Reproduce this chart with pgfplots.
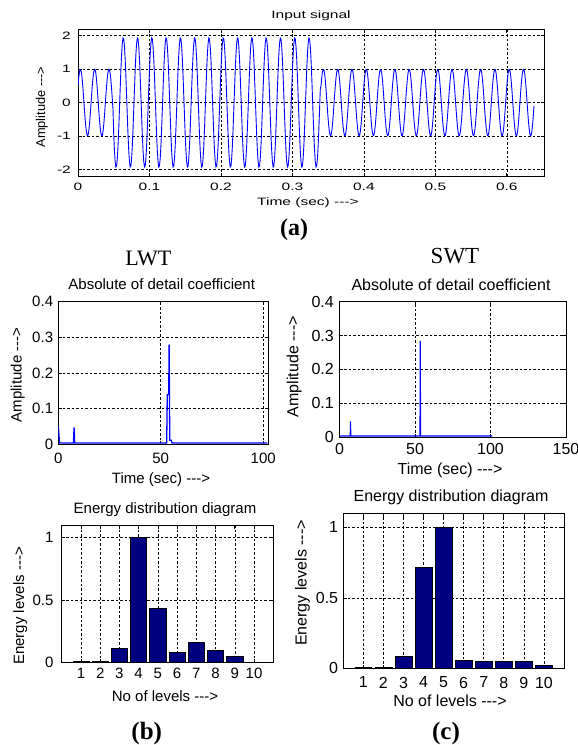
\documentclass[border=0pt]{standalone}
\usepackage{pgfplots}
\pgfplotsset{compat=1.18}
\usepackage{fontspec}
\setmainfont{Liberation Sans}
\newfontfamily\widesans[FakeStretch=1.45]{Liberation Sans}
\newfontfamily\serif{Liberation Serif}
\definecolor{navy}{rgb}{0,0,0.5}
\definecolor{mblue}{rgb}{0,0,1}
\newcommand{\topf}{\widesans\fontsize{10.7bp}{12bp}\selectfont}
\newcommand{\fa}{\fontsize{15bp}{17bp}\selectfont}
\newcommand{\fb}{\fontsize{16bp}{18bp}\selectfont}
\pgfplotsset{
  mat/.style={scale only axis, anchor=north west,
    axis line style={black, line width=0.9bp},
    grid=major, grid style={black, line width=0.65bp, dash pattern=on 2.5bp off 2bp},
    major tick length=3.5bp, tick style={black, line width=0.7bp},
    /pgf/number format/assume math mode=true,
    xticklabel style={anchor=north, inner sep=0pt},
    yticklabel style={anchor=east, inner sep=0pt}},
}
\begin{document}
\begin{tikzpicture}
\useasboundingbox (0,0) rectangle (578bp,-745bp);
% ---------------- top: input signal
\begin{axis}[mat, at={(78bp,-29bp)}, width=466bp, height=147bp,
  xmin=0, xmax=0.652, ymin=-2.2, ymax=2.2,
  xtick={0,0.1,0.2,0.3,0.4,0.5,0.6}, ytick={-2,-1,0,1,2},
  tick label style={font=\topf},
  xticklabel style={yshift=-7bp}, yticklabel style={xshift=-7bp}]
\addplot[mblue, line width=0.9bp] table[row sep=\\, x expr=\coordindex*0.001, y index=0] {
y\\
.5\\.74\\.91\\.99\\.98\\.87\\.67\\.41\\.1\\-.21\\-.5\\-.74\\-.91\\-.99\\-.98\\-.87\\-.67\\-.41\\-.1\\.21\\
.5\\.74\\.91\\.99\\.98\\.87\\.67\\.41\\.1\\-.21\\-.5\\-.74\\-.91\\-.99\\-.98\\-.87\\-.67\\-.41\\-.1\\.21\\
.5\\.74\\.91\\.99\\.98\\.87\\.67\\.41\\.1\\-.21\\
-.97\\-1.44\\-1.77\\-1.93\\-1.9\\-1.68\\-1.3\\-.79\\-.2\\.4\\
.97\\1.44\\1.77\\1.93\\1.9\\1.68\\1.3\\.79\\.2\\-.4\\-.97\\-1.44\\-1.77\\-1.93\\-1.9\\-1.68\\-1.3\\-.79\\-.2\\.4\\
.97\\1.44\\1.77\\1.93\\1.9\\1.68\\1.3\\.79\\.2\\-.4\\-.97\\-1.44\\-1.77\\-1.93\\-1.9\\-1.68\\-1.3\\-.79\\-.2\\.4\\
.97\\1.44\\1.77\\1.93\\1.9\\1.68\\1.3\\.79\\.2\\-.4\\-.97\\-1.44\\-1.77\\-1.93\\-1.9\\-1.68\\-1.3\\-.79\\-.2\\.4\\
.97\\1.44\\1.77\\1.93\\1.9\\1.68\\1.3\\.79\\.2\\-.4\\-.97\\-1.44\\-1.77\\-1.93\\-1.9\\-1.68\\-1.3\\-.79\\-.2\\.4\\
.97\\1.44\\1.77\\1.93\\1.9\\1.68\\1.3\\.79\\.2\\-.4\\-.97\\-1.44\\-1.77\\-1.93\\-1.9\\-1.68\\-1.3\\-.79\\-.2\\.4\\
.97\\1.44\\1.77\\1.93\\1.9\\1.68\\1.3\\.79\\.2\\-.4\\-.97\\-1.44\\-1.77\\-1.93\\-1.9\\-1.68\\-1.3\\-.79\\-.2\\.4\\
.97\\1.44\\1.77\\1.93\\1.9\\1.68\\1.3\\.79\\.2\\-.4\\-.97\\-1.44\\-1.77\\-1.93\\-1.9\\-1.68\\-1.3\\-.79\\-.2\\.4\\
.97\\1.44\\1.77\\1.93\\1.9\\1.68\\1.3\\.79\\.2\\-.4\\-.97\\-1.44\\-1.77\\-1.93\\-1.9\\-1.68\\-1.3\\-.79\\-.2\\.4\\
.97\\1.44\\1.77\\1.93\\1.9\\1.68\\1.3\\.79\\.2\\-.4\\-.97\\-1.44\\-1.77\\-1.93\\-1.9\\-1.68\\-1.3\\-.79\\-.2\\.4\\
.97\\1.44\\1.77\\1.93\\1.9\\1.68\\1.3\\.79\\.2\\-.4\\-.97\\-1.44\\-1.77\\-1.93\\-1.9\\-1.68\\-1.3\\-.79\\-.2\\.4\\
.97\\1.44\\1.77\\1.93\\1.9\\1.68\\1.3\\.79\\.2\\-.4\\-.97\\-1.44\\-1.77\\-1.93\\-1.9\\-1.68\\-1.3\\-.79\\-.2\\.4\\
.97\\1.44\\1.77\\1.93\\1.9\\1.68\\1.3\\.79\\.2\\-.4\\-.97\\-1.44\\-1.77\\-1.93\\-1.9\\-1.68\\-1.3\\-.79\\-.2\\.4\\
.97\\1.44\\1.77\\1.93\\1.9\\1.68\\1.3\\.79\\.2\\-.4\\-.97\\-1.44\\-1.77\\-1.93\\-1.9\\-1.68\\-1.3\\-.79\\-.2\\.4\\
.97\\1.44\\1.77\\1.93\\1.9\\1.68\\1.3\\.79\\.2\\-.4\\-.97\\-1.44\\-1.77\\-1.93\\-1.9\\-1.68\\-1.3\\-.79\\-.2\\.4\\
.5\\.74\\.91\\.99\\.98\\.87\\.67\\.41\\.1\\-.21\\-.5\\-.74\\-.91\\-.99\\-.98\\-.87\\-.67\\-.41\\-.1\\.21\\
.5\\.74\\.91\\.99\\.98\\.87\\.67\\.41\\.1\\-.21\\-.5\\-.74\\-.91\\-.99\\-.98\\-.87\\-.67\\-.41\\-.1\\.21\\
.5\\.74\\.91\\.99\\.98\\.87\\.67\\.41\\.1\\-.21\\-.5\\-.74\\-.91\\-.99\\-.98\\-.87\\-.67\\-.41\\-.1\\.21\\
.5\\.74\\.91\\.99\\.98\\.87\\.67\\.41\\.1\\-.21\\-.5\\-.74\\-.91\\-.99\\-.98\\-.87\\-.67\\-.41\\-.1\\.21\\
.5\\.74\\.91\\.99\\.98\\.87\\.67\\.41\\.1\\-.21\\-.5\\-.74\\-.91\\-.99\\-.98\\-.87\\-.67\\-.41\\-.1\\.21\\
.5\\.74\\.91\\.99\\.98\\.87\\.67\\.41\\.1\\-.21\\-.5\\-.74\\-.91\\-.99\\-.98\\-.87\\-.67\\-.41\\-.1\\.21\\
.5\\.74\\.91\\.99\\.98\\.87\\.67\\.41\\.1\\-.21\\-.5\\-.74\\-.91\\-.99\\-.98\\-.87\\-.67\\-.41\\-.1\\.21\\
.5\\.74\\.91\\.99\\.98\\.87\\.67\\.41\\.1\\-.21\\-.5\\-.74\\-.91\\-.99\\-.98\\-.87\\-.67\\-.41\\-.1\\.21\\
.5\\.74\\.91\\.99\\.98\\.87\\.67\\.41\\.1\\-.21\\-.5\\-.74\\-.91\\-.99\\-.98\\-.87\\-.67\\-.41\\-.1\\.21\\
.5\\.74\\.91\\.99\\.98\\.87\\.67\\.41\\.1\\-.21\\-.5\\-.74\\-.91\\-.99\\-.98\\-.87\\-.67\\-.41\\-.1\\.21\\
.5\\.74\\.91\\.99\\.98\\.87\\.67\\.41\\.1\\-.21\\-.5\\-.74\\-.91\\-.99\\-.98\\-.87\\-.67\\-.41\\-.1\\.21\\
.5\\.74\\.91\\.99\\.98\\.87\\.67\\.41\\.1\\-.21\\-.5\\-.74\\-.91\\-.99\\-.98\\-.87\\-.67\\-.41\\-.1\\.21\\
.5\\.74\\.91\\.99\\.98\\.87\\.67\\.41\\.1\\-.21\\-.5\\-.74\\-.91\\-.99\\-.98\\-.87\\-.67\\-.41\\-.1\\.21\\
.5\\.74\\.91\\.99\\.98\\.87\\.67\\.41\\.1\\-.21\\-.5\\-.74\\-.91\\-.99\\-.98\\-.87\\-.67\\-.41\\-.1\\.21\\
.5\\.74\\.91\\.99\\.98\\.87\\.67\\.41\\.1\\-.21\\-.5\\-.74\\-.91\\-.99\\-.98\\-.87\\-.67\\-.41\\-.1\\
};
\end{axis}
% ---------------- middle left: LWT detail
\begin{axis}[mat, at={(58.3bp,-301.7bp)}, width=210bp, height=142.8bp,
  xmin=0, xmax=102.5, ymin=0, ymax=0.4,
  xtick={0,50,100}, ytick={0,0.1,0.2,0.3,0.4},
  tick label style={font=\fa},
  xticklabel style={yshift=-8.5bp}, yticklabel style={xshift=-5bp}]
\addplot[mblue, line width=1.3bp] coordinates {
(0,0.052) (0.6,0.004) (7.4,0.004) (7.7,0.048) (8,0.004) (52.9,0.004) (53.2,0.14) (53.9,0.14) (54.1,0.28) (54.4,0.012) (55.2,0.012) (55.5,0.004) (102,0.004)};
\end{axis}
% ---------------- middle right: SWT detail
\begin{axis}[mat, at={(339.5bp,-301.7bp)}, width=226.5bp, height=135.3bp,
  xmin=0, xmax=150, ymin=0, ymax=0.4,
  xtick={0,50,100,150}, ytick={0,0.1,0.2,0.3,0.4},
  tick label style={font=\fb},
  xticklabel style={yshift=-6bp}, yticklabel style={xshift=-5.5bp}]
\addplot[mblue, line width=1.1bp] coordinates {
(0,0.003) (7.1,0.003) (7.3,0.046) (7.5,0.003) (53.3,0.003) (53.5,0.284) (53.7,0.003) (101,0.003)};
\end{axis}
% ---------------- bottom left: LWT energy
\begin{axis}[mat, at={(61.7bp,-525bp)}, width=211.6bp, height=137.7bp,
  xmin=0, xmax=11, ymin=0, ymax=1.1,
  xtick={1,2,3,4,5,6,7,8,9,10}, ytick={0,0.5,1},
  tick label style={font=\fa},
  xticklabel style={yshift=-5.5bp}, yticklabel style={xshift=-8bp}]
\addplot[ybar, bar width=0.84, fill=navy, draw=black, line width=0.7bp] coordinates {
(1,0.008) (2,0.008) (3,0.112) (4,1.0) (5,0.433) (6,0.085) (7,0.16) (8,0.10) (9,0.048) (10,0)};
\end{axis}
% ---------------- bottom right: SWT energy
\begin{axis}[mat, at={(343.3bp,-513.3bp)}, width=220.7bp, height=155bp,
  xmin=0, xmax=11, ymin=0, ymax=1.1,
  xtick={1,2,3,4,5,6,7,8,9,10}, ytick={0,0.5,1},
  tick label style={font=\fb},
  xticklabel style={yshift=-8.4bp}, yticklabel style={xshift=-5bp}]
\addplot[ybar, bar width=0.84, fill=navy, draw=black, line width=0.7bp] coordinates {
(1,0.007) (2,0.007) (3,0.082) (4,0.713) (5,1.0) (6,0.058) (7,0.049) (8,0.049) (9,0.049) (10,0.019)};
\end{axis}
% ---------------- texts
\node[font=\topf, anchor=base] at (311bp,-18.5bp) {Input signal};
\node[font=\topf, anchor=base] at (308bp,-205bp) {Time (sec) -{}-{}->};
\node[font=\fontsize{12.8bp}{14bp}\selectfont, rotate=90, anchor=base] at (45bp,-107bp) {Amplitude -{}-{}->};
\node[font=\serif\bfseries\fontsize{24bp}{26bp}\selectfont, anchor=base] at (294bp,-235bp) {(a)};
\node[font=\serif\fontsize{22bp}{24bp}\selectfont, anchor=base] at (148.3bp,-265bp) {LWT};
\node[font=\serif\fontsize{23bp}{25bp}\selectfont, anchor=base] at (455bp,-263.3bp) {SWT};
\node[font=\fa, anchor=base] at (161.7bp,-289.3bp) {Absolute of detail coefficient};
\node[font=\fb, anchor=base] at (451bp,-290bp) {Absolute of detail coefficient};
\node[font=\fa, anchor=base] at (161bp,-483.3bp) {Time (sec) -{}-{}->};
\node[font=\fb, anchor=base] at (450bp,-474bp) {Time (sec) -{}-{}->};
\node[font=\fa, rotate=90, anchor=base] at (21.7bp,-375bp) {Amplitude -{}-{}->};
\node[font=\fb, rotate=90, anchor=base] at (298.3bp,-366.7bp) {Amplitude -{}-{}->};
\node[font=\fa, anchor=base] at (165bp,-513.3bp) {Energy distribution diagram};
\node[font=\fb, anchor=base] at (451bp,-501bp) {Energy distribution diagram};
\node[font=\fa, anchor=base] at (165bp,-701.7bp) {No of levels -{}-{}->};
\node[font=\fb, anchor=base] at (450bp,-706.7bp) {No of levels -{}-{}->};
\node[font=\fa, rotate=90, anchor=base] at (24bp,-606bp) {Energy levels -{}-{}->};
\node[font=\fb, rotate=90, anchor=base] at (306.7bp,-583bp) {Energy levels -{}-{}->};
\node[font=\serif\bfseries\fontsize{25bp}{27bp}\selectfont, anchor=base] at (146.7bp,-739bp) {(b)};
\node[font=\serif\bfseries\fontsize{25bp}{27bp}\selectfont, anchor=base] at (446bp,-739bp) {(c)};
\end{tikzpicture}
\end{document}
